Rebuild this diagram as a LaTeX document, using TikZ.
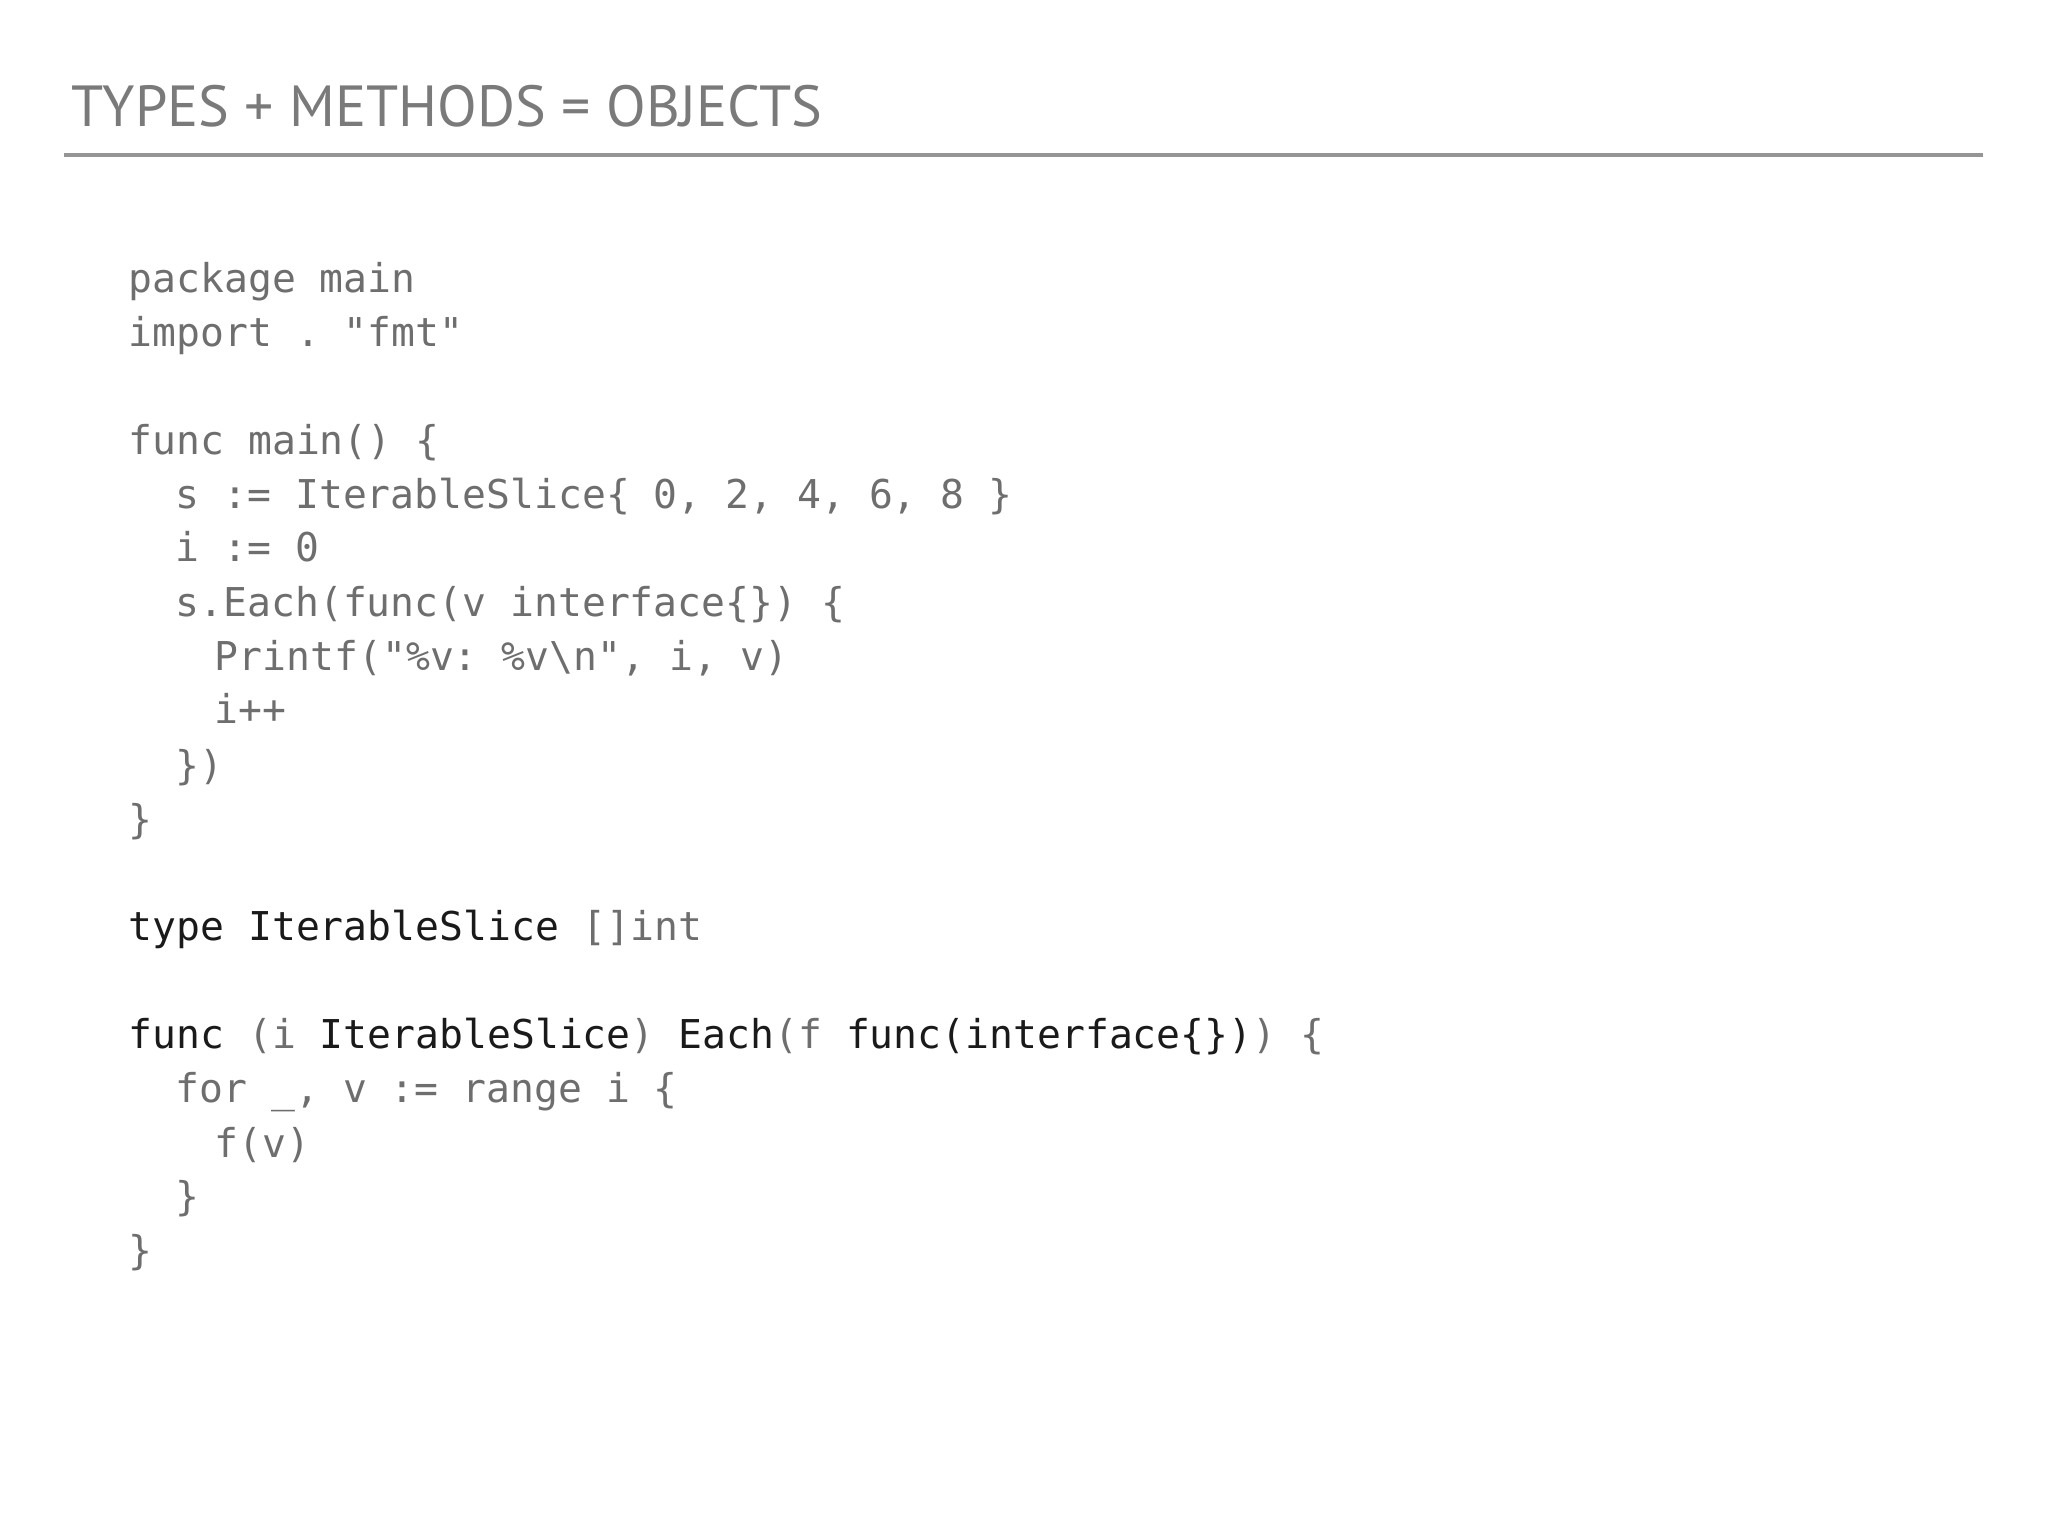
\documentclass[tikz,border=0pt]{standalone}
\usepackage{fontspec}
\setmainfont{PT Sans}
\setmonofont{DejaVu Sans Mono}
\definecolor{cg}{HTML}{6E6E6E}
\definecolor{cd}{HTML}{1A1A1A}
\definecolor{tg}{HTML}{7A7A7A}
\begin{document}
\begin{tikzpicture}[x=0.01306cm,y=-0.01306cm,
  code/.style={anchor=base west,inner sep=0,text=cg,font=\ttfamily\fontsize{11.3}{15}\selectfont},
  ttl/.style={anchor=base west,inner sep=0,text=tg,font=\fontsize{16.5}{20}\selectfont}]
\useasboundingbox (0,0) rectangle (1568,1176);
\node[ttl] (title) at (54,97) {TYPES + METHODS = OBJECTS};
\draw[tg!80,line width=1.1pt] (49,119) coordinate (r1) -- (1518,119) coordinate (r2);
\def\b{10}
\node[code] (l1) at (98,214+\b) {package main};
\node[code] (l2) at (98,255+\b) {import . "fmt"};
\node[code] (l4) at (98,338+\b) {func main() \{};
\node[code] (l5) at (134,379+\b) {s := IterableSlice\{ 0, 2, 4, 6, 8 \}};
\node[code] (l6) at (134,420+\b) {i := 0};
\node[code] (l7) at (134,462+\b) {s.Each(func(v interface\{\}) \{};
\node[code] (l8) at (164,503+\b) {Printf("\%v: \%v\textbackslash n", i, v)};
\node[code] (l9) at (164,544+\b) {i++};
\node[code] (l10) at (134,587+\b) {\})};
\node[code] (l11) at (98,628+\b) {\}};
\node[code] (l13) at (98,710+\b) {\textcolor{cd}{type IterableSlice} []int};
\node[code] (l15) at (98,793+\b) {\textcolor{cd}{func} (i \textcolor{cd}{IterableSlice}) \textcolor{cd}{Each}(f \textcolor{cd}{func(interface\{\})}) \{};
\node[code] (l16) at (134,834+\b) {for \_, v := range i \{};
\node[code] (l17) at (164,876+\b) {f(v)};
\node[code] (l18) at (134,917+\b) {\}};
\node[code] (l19) at (98,958+\b) {\}};
\end{tikzpicture}
\end{document}
